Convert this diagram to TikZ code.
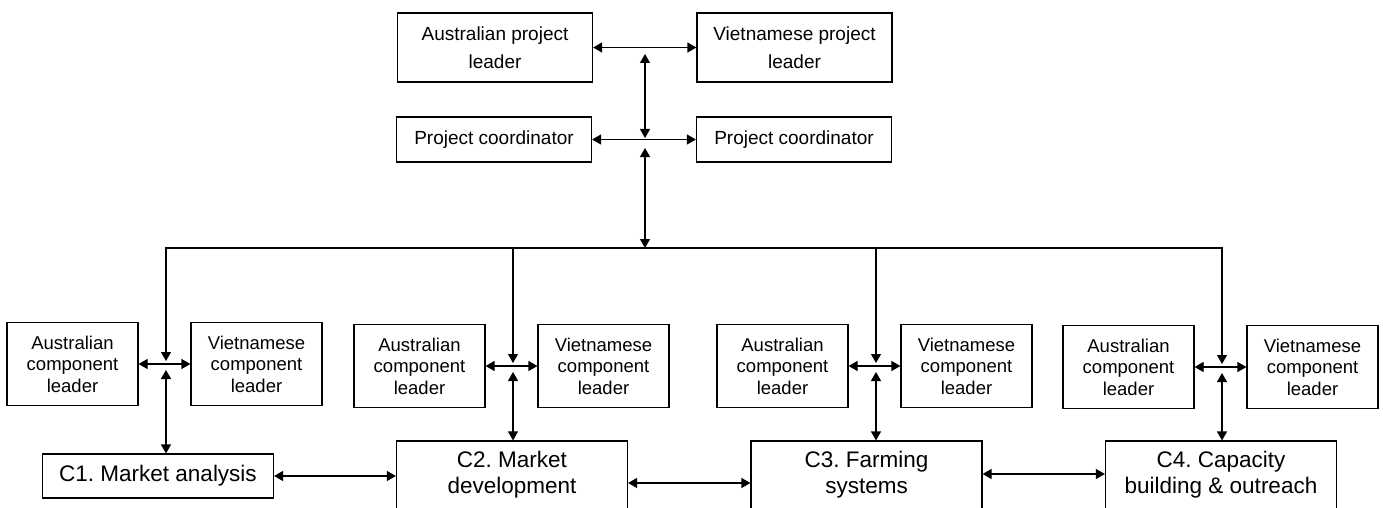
\documentclass[tikz,border=0pt]{standalone}
\usepackage{fontspec}
\setmainfont{Liberation Sans}
\frenchspacing
\usetikzlibrary{arrows.meta, positioning, calc}

\begin{document}
\begin{tikzpicture}[x=1pt, y=-1pt, line width=1.2pt,
  leaderbox/.style={draw, align=center, inner sep=0pt, minimum width=195pt, font=\fontsize{19}{28}\selectfont},
  compbox/.style={draw, align=center, inner sep=0pt, minimum width=131pt, minimum height=83pt, font=\fontsize{18.5}{21.5}\selectfont},
  partbox/.style={draw, align=center, inner sep=0pt, minimum width=231pt, font=\fontsize{22.5}{26}\selectfont},
  biarrow/.style={{Triangle[length=9pt,width=10pt]}-{Triangle[length=9pt,width=10pt]}},
  downarrow/.style={-{Triangle[length=9pt,width=10pt]}}]
\clip (0,0) rectangle (1383,508);
% project level
\node[leaderbox, minimum height=69pt] (auslead) at (495,47.5) {Australian project\\leader};
\node[leaderbox, minimum height=69pt] (vietlead) at (794.5,47.5) {Vietnamese project\\leader};
\node[leaderbox, minimum height=45pt] (auscoord) at (494,139.5) {Project coordinator};
\node[leaderbox, minimum height=45pt] (vietcoord) at (794,139.5) {Project coordinator};
\draw[biarrow] (auslead.east) -- (vietlead.west);
\draw[biarrow] (auscoord.east) -- (vietcoord.west);
\coordinate (hubtop) at (645,54);
\coordinate (hubmid) at (645,138);
\coordinate (hubbot) at (645,148);
\coordinate (busmid) at (645,248);
\draw[biarrow] (hubtop) -- (hubmid);
\draw[biarrow] (hubbot) -- (busmid);
% bus line to the components
\coordinate (busleft) at (165,248);
\coordinate (busright) at (1223,248);
\draw (busleft) -- (busright);
% components
\node[partbox, minimum height=44pt] (c1) at (158,476) {C1. Market analysis};
\node[partbox, minimum height=68pt] (c2) at (512,475) {C2. Market\\development};
\node[partbox, minimum height=68pt] (c3) at (866.5,475) {C3. Farming\\systems};
\node[partbox, minimum height=68pt] (c4) at (1221,475) {C4. Capacity\\building \& outreach};
\draw[biarrow] (c1.east) -- (c1.east -| c2.west);
\draw[biarrow] ([yshift=-8pt]c2.east) -- ([yshift=-8pt]c2.east -| c3.west);
\draw[biarrow] ([yshift=1pt]c3.east) -- ([yshift=1pt]c3.east -| c4.west);
% component leaders
\foreach \n/\x/\y in {1/166/364, 2/513/366, 3/876/366, 4/1222/367} {
  \node[compbox] (aus\n) at (\x-93.5,\y) {Australian\\component\\leader};
  \node[compbox] (viet\n) at (\x+90.5,\y) {Vietnamese\\component\\leader};
  \coordinate (drop\n) at (\x,248);
  \coordinate (hub\n) at (\x,\y);
  \draw[downarrow] (drop\n) -- ([yshift=3pt]hub\n);
  \draw[biarrow] (aus\n.east) -- (viet\n.west);
  \draw[biarrow] ([yshift=-6pt]hub\n) -- (hub\n |- c\n.north);
}
\end{tikzpicture}
\end{document}
